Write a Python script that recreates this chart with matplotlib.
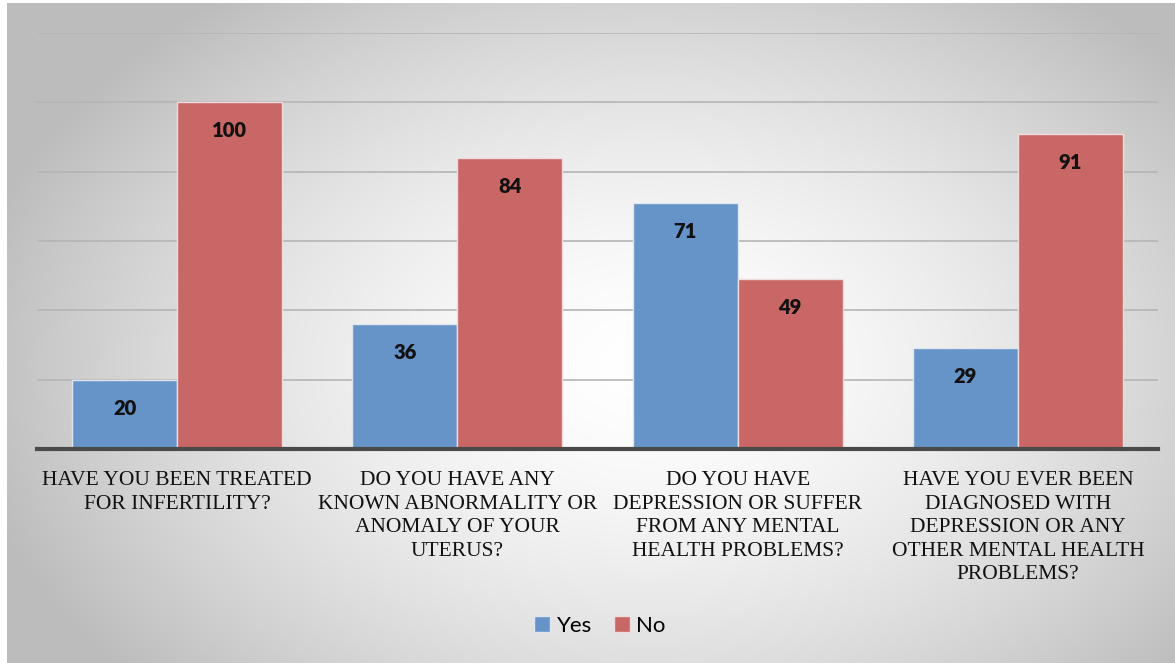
import numpy as np
import matplotlib
matplotlib.use("Agg")
import matplotlib.pyplot as plt
from matplotlib.patches import Patch

categories = [
    "HAVE YOU BEEN TREATED\nFOR INFERTILITY?",
    "DO YOU HAVE ANY\nKNOWN ABNORMALITY OR\nANOMALY OF YOUR\nUTERUS?",
    "DO YOU HAVE\nDEPRESSION OR SUFFER\nFROM ANY MENTAL\nHEALTH PROBLEMS?",
    "HAVE YOU EVER BEEN\nDIAGNOSED WITH\nDEPRESSION OR ANY\nOTHER MENTAL HEALTH\nPROBLEMS?",
]
yes_vals = [20, 36, 71, 29]
no_vals = [100, 84, 49, 91]
series_names = ["Yes", "No"]

blue = "#6694C8"
red = "#C86765"

W, H = 1175, 663
fig = plt.figure(figsize=(W / 100, H / 100), dpi=100)
fig.patch.set_facecolor("white")

# gradient background panel
bg = fig.add_axes([7 / W, 0, 1 - 7 / W, 1 - 3 / H], zorder=0)
yy, xx = np.mgrid[0:1:300j, 0:1:600j]
r = np.sqrt(((xx - 0.55) / 0.75) ** 2 + ((yy - 0.45) / 0.9) ** 2)
val = np.clip(1.0 - 0.38 * r ** 1.6, 0.74, 1.0)
bg.imshow(np.dstack([val, val, val]), aspect="auto", extent=[0, 1, 0, 1], origin="lower")
bg.set_axis_off()

ax = fig.add_axes([37 / W, 1 - 449 / H, (1158 - 37) / W, (449 - 33) / H], zorder=1)
ax.set_facecolor("none")

x = np.arange(len(categories))
bw = 0.375
b1 = ax.bar(x - bw / 2, yes_vals, bw, color=blue, edgecolor="#dfe6f0", linewidth=1.0, zorder=3)
b2 = ax.bar(x + bw / 2, no_vals, bw, color=red, edgecolor="#f0dcdc", linewidth=1.0, zorder=3)

for bars, vals in ((b1, yes_vals), (b2, no_vals)):
    for b, v in zip(bars, vals):
        ax.annotate(str(v), (b.get_x() + b.get_width() / 2, v), xytext=(0, -20.5),
                    textcoords="offset points", ha="center", va="center",
                    fontsize=14.5, fontweight="heavy", family="Lato", color="#111111", zorder=4)

ax.set_xlim(-0.5, len(categories) - 0.5)
ax.set_ylim(0, 120)
ax.set_yticks(np.arange(0, 121, 20))
ax.yaxis.grid(True, color="#b5b5b5", linewidth=1.2, zorder=1)
ax.tick_params(axis="y", length=0, labelleft=False)
ax.tick_params(axis="x", length=0, pad=16)
ax.set_xticks(x)
ax.set_xticklabels(categories, fontsize=15.5, family="Liberation Serif", color="#111111",
                   va="top", linespacing=1.32)
for s in ["top", "right", "left"]:
    ax.spines[s].set_visible(False)
ax.spines["bottom"].set_color("#4a4a4a")
ax.spines["bottom"].set_linewidth(3)
ax.spines["bottom"].set_zorder(5)

handles = [Patch(facecolor=blue, edgecolor="#dfe6f0"), Patch(facecolor=red, edgecolor="#f0dcdc")]
fig.legend(handles, series_names, loc="center", bbox_to_anchor=(600 / W, 1 - 626 / H),
           ncol=2, frameon=False, prop={"family": "Lato", "size": 16},
           handlelength=0.7, handleheight=0.7, handletextpad=0.3, columnspacing=1.0)

fig.savefig("out.png", dpi=100)
